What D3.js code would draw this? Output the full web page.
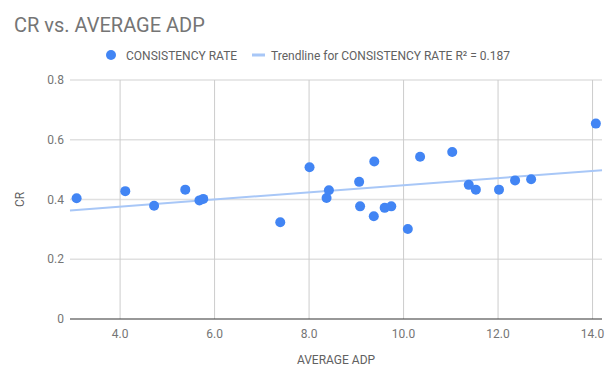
<!DOCTYPE html>
<html>
<head>
<meta charset="utf-8">
<script src="https://cdn.jsdelivr.net/npm/d3@7"></script>
<style>
  body { margin: 0; background: #fff; }
  text { font-family: Roboto, "Noto Sans", sans-serif; }
</style>
</head>
<body>
<div id="chart"></div>
<script>
// Data
const adp = [3.08, 4.11, 4.72, 5.38, 5.68, 5.76, 7.39, 8.01, 8.37, 8.42, 9.06, 9.08,
             9.37, 9.38, 9.60, 9.74, 10.09, 10.35, 11.03, 11.38, 11.53, 12.02, 12.36, 12.70, 14.07];
const cr  = [0.404, 0.428, 0.379, 0.433, 0.397, 0.402, 0.324, 0.508, 0.405, 0.431, 0.459, 0.377,
             0.344, 0.527, 0.372, 0.377, 0.301, 0.543, 0.559, 0.449, 0.433, 0.433, 0.464, 0.468, 0.654];
const xTicks = [4, 6, 8, 10, 12, 14];
const yTicks = [0, 0.2, 0.4, 0.6, 0.8];
const seriesName = "CONSISTENCY RATE";
const r2Label = "0.187";

const width = 611;
const height = 382;
const svg = d3.select("#chart").append("svg")
    .attr("width", width)
    .attr("height", height);

const plotLeft = 70, plotRight = 602, plotTop = 80, plotBottom = 319;

const x = d3.scaleLinear().domain([2.94, 14.2]).range([plotLeft, plotRight]);
const y = d3.scaleLinear().domain([0, 0.8]).range([plotBottom, plotTop]);

// Title
svg.append("text")
    .attr("x", 14).attr("y", 32)
    .attr("font-size", 20)
    .attr("fill", "#757575")
    .text("CR vs. AVERAGE ADP");

// Legend
const legend = svg.append("g").attr("font-size", 12).attr("fill", "#616161");
legend.append("circle").attr("cx", 111).attr("cy", 55).attr("r", 5).attr("fill", "#4285f4");
legend.append("text").attr("x", 126).attr("y", 59.5).text(seriesName);
legend.append("rect").attr("x", 252).attr("y", 53.5).attr("width", 13).attr("height", 3)
    .attr("fill", "#a8c7f7");
legend.append("text").attr("x", 271).attr("y", 59.5)
    .text(`Trendline for ${seriesName} R\u00b2 = ${r2Label}`);

// Gridlines
svg.append("g")
    .selectAll("line")
    .data(yTicks.filter(d => d > 0))
    .join("line")
    .attr("x1", plotLeft).attr("x2", plotRight)
    .attr("y1", d => y(d)).attr("y2", d => y(d))
    .attr("stroke", "#e0e0e0").attr("stroke-width", 1.5);

svg.append("g")
    .selectAll("line")
    .data(xTicks)
    .join("line")
    .attr("x1", d => x(d)).attr("x2", d => x(d))
    .attr("y1", plotTop).attr("y2", plotBottom)
    .attr("stroke", "#cccccc").attr("stroke-width", 1);

// Baseline
svg.append("line")
    .attr("x1", plotLeft).attr("x2", plotRight)
    .attr("y1", y(0)).attr("y2", y(0))
    .attr("stroke", "#333").attr("stroke-width", 1.2);

// Tick labels
svg.append("g")
    .selectAll("text")
    .data(yTicks)
    .join("text")
    .attr("x", plotLeft - 6)
    .attr("y", d => y(d) + 4)
    .attr("text-anchor", "end")
    .attr("font-size", 12)
    .attr("fill", "#757575")
    .text(d => d === 0 ? "0" : d.toFixed(1));

svg.append("g")
    .selectAll("text")
    .data(xTicks)
    .join("text")
    .attr("x", d => x(d))
    .attr("y", 338)
    .attr("text-anchor", "middle")
    .attr("font-size", 12)
    .attr("fill", "#757575")
    .text(d => d.toFixed(1));

// Axis titles
svg.append("text")
    .attr("x", (plotLeft + plotRight) / 2).attr("y", 364)
    .attr("text-anchor", "middle")
    .attr("font-size", 12)
    .attr("fill", "#616161")
    .text("AVERAGE ADP");

svg.append("text")
    .attr("transform", `translate(24,${(plotTop + plotBottom) / 2}) rotate(-90)`)
    .attr("text-anchor", "middle")
    .attr("font-size", 12)
    .attr("fill", "#616161")
    .text("CR");

// Linear trendline (least squares)
const mx = d3.mean(adp), my = d3.mean(cr);
const slope = d3.sum(adp, (d, i) => (d - mx) * (cr[i] - my)) / d3.sum(adp, d => (d - mx) ** 2);
const intercept = my - slope * mx;
const [x0, x1] = x.domain();

svg.append("line")
    .attr("x1", x(x0)).attr("y1", y(intercept + slope * x0))
    .attr("x2", x(x1)).attr("y2", y(intercept + slope * x1))
    .attr("stroke", "#a8c7f7").attr("stroke-width", 2);

// Points
svg.append("g")
    .selectAll("circle")
    .data(adp.map((d, i) => [d, cr[i]]))
    .join("circle")
    .attr("cx", d => x(d[0]))
    .attr("cy", d => y(d[1]))
    .attr("r", 5)
    .attr("fill", "#4285f4");
</script>
</body>
</html>
